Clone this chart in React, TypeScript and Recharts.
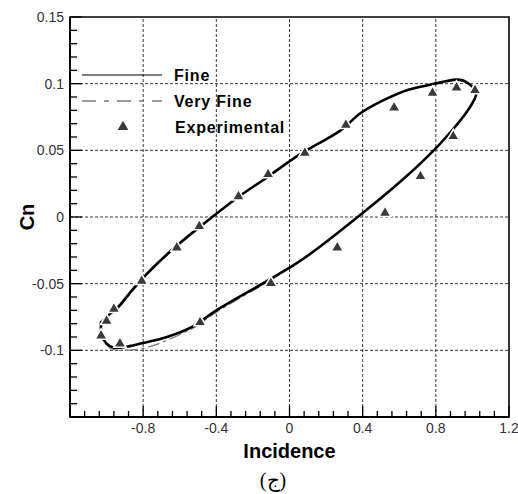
import {
  ComposedChart,
  Line,
  ReferenceArea,
  ReferenceLine,
  Scatter,
  Symbols,
  XAxis,
  YAxis,
} from "recharts"

// Fine grid: lower branch left -> right, then upper branch back to the left
const fineIncidence = [
  -1.03, -1.028, -1.0, -0.96, -0.9, -0.8, -0.67, -0.52, -0.4, -0.16, 0.0, 0.14, 0.4, 0.61, 0.81,
  0.96, 1.01, 1.02, 0.98, 0.91, 0.78, 0.65, 0.52, 0.38, 0.27, 0.08, -0.12, -0.28, -0.45, -0.62,
  -0.81, -0.92, -0.96, -1.02,
]
const fineCn = [
  -0.078, -0.088, -0.095, -0.098, -0.0975, -0.0945, -0.09, -0.0815, -0.07, -0.051, -0.038, -0.025,
  0.003, 0.027, 0.053, 0.077, 0.088, 0.094, 0.1, 0.103, 0.0995, 0.0955, 0.088, 0.077, 0.064, 0.049,
  0.03, 0.015, -0.003, -0.022, -0.047, -0.065, -0.07, -0.078,
]

// Very fine grid: sits a little lower on the bottom-left part of the loop
const veryFineIncidence = [
  -1.03, -1.03, -1.0, -0.96, -0.9, -0.8, -0.67, -0.52, -0.4, -0.16, 0.0, 0.14, 0.4, 0.61, 0.81,
  0.96, 1.01, 1.02, 0.98, 0.91, 0.78, 0.65, 0.52, 0.38, 0.27, 0.08, -0.12, -0.28, -0.45, -0.62,
  -0.81, -0.92, -0.97, -1.03,
]
const veryFineCn = [
  -0.078, -0.088, -0.096, -0.0995, -0.1, -0.0985, -0.0925, -0.0828, -0.0715, -0.052, -0.0385,
  -0.025, 0.003, 0.027, 0.053, 0.077, 0.088, 0.094, 0.1, 0.103, 0.0995, 0.0955, 0.088, 0.077, 0.064,
  0.049, 0.03, 0.015, -0.003, -0.022, -0.048, -0.066, -0.072, -0.078,
]

const expIncidence = [
  -1.03, -1.0, -0.96, -0.927, -0.808, -0.616, -0.489, -0.493, -0.279, -0.117, 0.084, 0.308, 0.572,
  0.782, 0.913, 1.014, 0.895, 0.716, 0.522, 0.261, -0.102,
]
const expCn = [
  -0.089, -0.078, -0.069, -0.095, -0.048, -0.023, -0.079, -0.007, 0.0154, 0.032, 0.048, 0.069,
  0.082, 0.093, 0.097, 0.095, 0.0605, 0.0305, 0.003, -0.023, -0.0496,
]

const xMajorTicks = [-1.2, -0.8, -0.4, 0, 0.4, 0.8, 1.2]
const xTickLabels = ["", "-0.8", "-0.4", "0", "0.4", "0.8", "1.2"]
const yMajorTicks = [-0.15, -0.1, -0.05, 0, 0.05, 0.1, 0.15]
const yTickLabels = ["", "-0.1", "-0.05", "0", "0.05", "0.1", "0.15"]
const xGrid = [-0.8, -0.4, 0, 0.4, 0.8]
const yGrid = [-0.1, -0.05, 0, 0.05, 0.1]

const zip = (xs: number[], ys: number[]) => xs.map((x, i) => ({ x, y: ys[i] }))
const fine = zip(fineIncidence, fineCn)
const veryFine = zip(veryFineIncidence, veryFineCn)
const experimental = zip(expIncidence, expCn)

// four minor ticks between each pair of major ticks
const withMinor = (major: number[]) =>
  major.flatMap((v, i) =>
    i === 0
      ? [v]
      : [1, 2, 3, 4, 5].map((k) => Math.round((major[i - 1] + ((v - major[i - 1]) * k) / 5) * 1000) / 1000)
  )

const labelFor = (major: number[], labels: string[], v: number) => {
  const i = major.findIndex((m) => Math.abs(m - v) < 1e-6)
  return i < 0 ? null : labels[i]
}

const tickFont = { fontFamily: "Liberation Sans, Arial, sans-serif", fontSize: 14, fill: "#333" }

const XTick = (props: any) => {
  const { x, y, payload } = props
  const label = labelFor(xMajorTicks, xTickLabels, payload.value)
  const len = label === null ? 6 : 11
  return (
    <g>
      <line x1={x} y1={y} x2={x} y2={y - len} stroke="#000" strokeWidth={1.3} />
      {label ? (
        <text x={x} y={y + 16} textAnchor="middle" {...tickFont}>
          {label}
        </text>
      ) : null}
    </g>
  )
}

const YTick = (props: any) => {
  const { x, y, payload } = props
  const label = labelFor(yMajorTicks, yTickLabels, payload.value)
  const len = label === null ? 7 : 12
  return (
    <g>
      <line x1={x} y1={y} x2={x + len} y2={y} stroke="#000" strokeWidth={1.3} />
      {label ? (
        <text x={x - 6} y={y + 5} textAnchor="end" {...tickFont}>
          {label}
        </text>
      ) : null}
    </g>
  )
}

const legendFont = {
  fontFamily: "Liberation Sans, Arial, sans-serif",
  fontSize: 16,
  fontWeight: 700,
  letterSpacing: 0.8,
  fill: "#000",
}

export default function App() {
  return (
    <div style={{ position: "absolute", left: 0, top: 0, width: 518, height: 494, background: "#fff" }}>
      <ComposedChart width={518} height={494} margin={{ top: 17, right: 9, bottom: 47, left: 10 }}>
        <XAxis
          type="number"
          dataKey="x"
          domain={[-1.2, 1.2]}
          ticks={withMinor(xMajorTicks)}
          interval={0}
          height={30}
          tickSize={0}
          tickMargin={0}
          tick={<XTick />}
          axisLine={{ stroke: "#000", strokeWidth: 2 }}
          allowDataOverflow
          label={{
            value: "Incidence",
            position: "bottom",
            offset: -3,
            style: { fontFamily: "Liberation Sans, Arial, sans-serif", fontSize: 20, fontWeight: 700, fill: "#000" },
          }}
        />
        <YAxis
          type="number"
          dataKey="y"
          domain={[-0.15, 0.15]}
          ticks={withMinor(yMajorTicks)}
          interval={0}
          width={60}
          tickSize={0}
          tickMargin={0}
          tick={<YTick />}
          axisLine={{ stroke: "#000", strokeWidth: 2 }}
          allowDataOverflow
          label={{
            value: "Cn",
            angle: -90,
            position: "insideLeft",
            offset: 17,
            style: {
              fontFamily: "Liberation Sans, Arial, sans-serif",
              fontSize: 20,
              fontWeight: 700,
              fill: "#000",
              textAnchor: "middle",
            },
          }}
        />
        {xGrid.map((v) => (
          <ReferenceLine key={`gx${v}`} x={v} stroke="#222" strokeWidth={0.9} strokeDasharray="3 2" />
        ))}
        {yGrid.map((v) => (
          <ReferenceLine key={`gy${v}`} y={v} stroke="#222" strokeWidth={0.9} strokeDasharray="3 2" />
        ))}
        <Line
          data={veryFine}
          dataKey="y"
          type="natural"
          stroke="#7a7a7a"
          strokeWidth={1.2}
          strokeDasharray="12 4 3 4"
          dot={false}
          isAnimationActive={false}
        />
        <Line
          data={fine}
          dataKey="y"
          type="natural"
          stroke="#000"
          strokeWidth={2.6}
          dot={false}
          isAnimationActive={false}
        />
        <Scatter
          data={experimental}
          dataKey="y"
          shape="triangle"
          fill="#3a3a3a"
          stroke="#fff"
          strokeWidth={1.5}
          isAnimationActive={false}
        />
        <ReferenceArea x1={-1.2} x2={1.2} y1={-0.15} y2={0.15} fill="none" stroke="#000" strokeWidth={1.6} />
      </ComposedChart>

      <svg
        width={518}
        height={494}
        style={{ position: "absolute", left: 0, top: 0, pointerEvents: "none" }}
      >
        <line x1={82} y1={75} x2={162} y2={75} stroke="#000" strokeWidth={1.2} />
        <text x={174} y={81} {...legendFont}>
          Fine
        </text>
        <line x1={82} y1={101} x2={162} y2={101} stroke="#7a7a7a" strokeWidth={1.5} strokeDasharray="14 8 5 8" />
        <text x={174} y={107} {...legendFont}>
          Very Fine
        </text>
        <Symbols type="triangle" size={50} cx={123} cy={127} fill="#3a3a3a" />
        <text x={175} y={133} {...legendFont}>
          Experimental
        </text>
        <text
          x={273}
          y={487}
          textAnchor="middle"
          fontFamily="Liberation Serif, DejaVu Serif, serif"
          fontSize={20}
          fill="#000"
        >
          (ج)
        </text>
      </svg>
    </div>
  )
}
